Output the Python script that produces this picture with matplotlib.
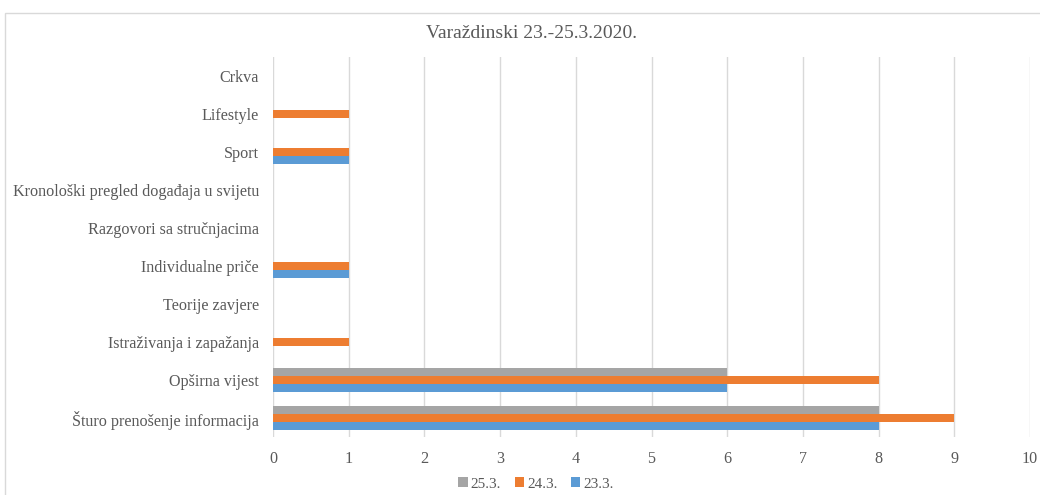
import numpy as np
import matplotlib.pyplot as plt
from matplotlib.patches import Rectangle

# categories listed bottom to top
categories = [
    "Šturo prenošenje informacija",
    "Opširna vijest",
    "Istraživanja i zapažanja",
    "Teorije zavjere",
    "Individualne priče",
    "Razgovori sa stručnjacima",
    "Kronološki pregled događaja u svijetu",
    "Sport",
    "Lifestyle",
    "Crkva",
]
series_names = ["23.3.", "24.3.", "25.3."]
d23 = [8, 6, 0, 0, 1, 0, 0, 1, 0, 0]
d24 = [9, 8, 1, 0, 1, 0, 0, 1, 1, 0]
d25 = [8, 6, 0, 0, 0, 0, 0, 0, 0, 0]
colors = ["#5B9BD5", "#ED7D31", "#A5A5A5"]

plt.rcParams["font.family"] = ["Liberation Serif", "DejaVu Serif"]
txt = "#595959"

fig = plt.figure(figsize=(10.4, 4.95), dpi=100)
fig.patches.append(Rectangle((5 / 1040, -0.1), 1.2, 1 - 13 / 495 + 0.1,
                             transform=fig.transFigure, fill=False,
                             edgecolor="#D9D9D9", lw=1))
ax = fig.add_axes([273 / 1040, 1 - 437 / 495, 757 / 1040, 380 / 495])

y = np.arange(len(categories))
h = 0.21
for i, (vals, name) in enumerate(zip([d23, d24, d25], series_names)):
    ax.barh(y + (i - 1) * h, vals, height=h, color=colors[i], label=name, zorder=3)

ax.set_xlim(0, 10)
ax.set_ylim(-0.5, len(categories) - 0.5)
ax.set_xticks(range(11))
ax.set_yticks(y)
ax.set_yticklabels(categories)
ax.tick_params(axis="both", length=0, colors=txt, labelsize=11.6)
ax.tick_params(axis="x", pad=10)
ax.tick_params(axis="y", pad=10)
ax.grid(axis="x", color="#D9D9D9", lw=1, zorder=0)
for s in ax.spines.values():
    s.set_visible(False)

fig.text(532 / 1040, 1 - 33 / 495, "Varaždinski 23.-25.3.2020.", ha="center", va="center",
         fontsize=14, color=txt)

handles, labels = ax.get_legend_handles_labels()
fig.legend(handles[::-1], labels[::-1], loc="center", bbox_to_anchor=(536 / 1040, 1 - 484 / 495),
           ncol=3, frameon=False, fontsize=11, handlelength=0.6, handleheight=0.6,
           handletextpad=0.2, columnspacing=0.9, labelcolor=txt)

fig.savefig("out.png", dpi=100)
